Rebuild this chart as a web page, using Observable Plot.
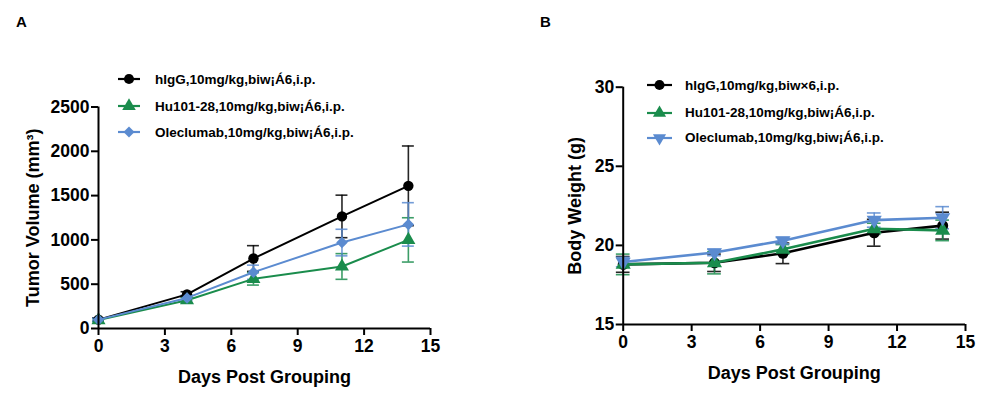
<!DOCTYPE html>
<html>
<head>
<meta charset="utf-8">
<script src="https://cdn.jsdelivr.net/npm/d3@7"></script>
<script src="https://cdn.jsdelivr.net/npm/@observablehq/plot@0.6"></script>
<style>
  html, body { margin: 0; padding: 0; background: #fff; }
  #wrap { position: relative; width: 984px; height: 398px; overflow: hidden; font-family: "Liberation Sans", Arial, sans-serif; }
  .panel { position: absolute; top: 0; }
  .plabel { position: absolute; font-weight: bold; font-size: 15px; }
  .leg { position: absolute; display: flex; align-items: center; font-weight: bold; font-size: 13.5px; white-space: nowrap; }
  .leg svg { display: block; }
</style>
</head>
<body>
<div id="wrap"></div>
<script>
// ---------- data ----------
const days = [0, 4, 7, 11, 14];
const xTicks = [0, 3, 6, 9, 12, 15];

const seriesNames = ["hIgG,10mg/kg,biw¡Á6,i.p.", "Hu101-28,10mg/kg,biw¡Á6,i.p.", "Oleclumab,10mg/kg,biw¡Á6,i.p."];
const seriesNamesB = ["hIgG,10mg/kg,biw×6,i.p.", "Hu101-28,10mg/kg,biw¡Á6,i.p.", "Oleclumab,10mg/kg,biw¡Á6,i.p."];
const colors = ["#000000", "#1a8c4c", "#5b8bd0"];

// Panel A: tumor volume (mm3)
const volTicks = [0, 500, 1000, 1500, 2000, 2500];
const hIgGVol = [100, 385, 790, 1265, 1610];
const hIgGVolErr = [20, 30, 145, 240, 450];
const huVol = [95, 318, 560, 700, 1000];
const huVolErr = [15, 30, 70, 145, 250];
const oleVol = [100, 345, 635, 970, 1175];
const oleVolErr = [15, 30, 80, 150, 245];

// Panel B: body weight (g)
const bwTicks = [15, 20, 25, 30];
const hIgGBw = [18.8, 18.9, 19.5, 20.8, 21.25];
const hIgGBwErr = [0.5, 0.55, 0.65, 0.85, 0.85];
const huBw = [18.8, 18.9, 19.75, 21.05, 20.95];
const huBwErr = [0.65, 0.7, 0.3, 0.35, 0.65];
const oleBw = [18.95, 19.55, 20.3, 21.6, 21.75];
const oleBwErr = [0.3, 0.2, 0.2, 0.45, 0.7];

// ---------- build tables ----------
function table(names, vals, errs) {
  const out = [];
  names.forEach((n, i) => days.forEach((d, j) => out.push({series: n, idx: i, day: d, v: vals[i][j], e: errs[i][j]})));
  return out;
}
const dataA = table(seriesNames, [hIgGVol, huVol, oleVol], [hIgGVolErr, huVolErr, oleVolErr]);
const dataB = table(seriesNamesB, [hIgGBw, huBw, oleBw], [hIgGBwErr, huBwErr, oleBwErr]);

const FONT = '"Liberation Sans", Arial, sans-serif';

function panel(cfg) {
  const {data, yDomain, yTicks, yLabel, width, margins, symbols, rotates, capW, lineW, r, ylabDx} = cfg;
  const marks = [];
  // error bars
  for (let i = 0; i < 3; i++) {
    const d = data.filter(o => o.idx === i);
    marks.push(Plot.ruleX(d, {x: "day", y1: o => o.v - o.e, y2: o => o.v + o.e, stroke: colors[i], strokeWidth: 1.6, strokeOpacity: 0.85}));
    marks.push(Plot.ruleY(d, {y: o => o.v + o.e, x1: o => o.day - capW, x2: o => o.day + capW, stroke: colors[i], strokeWidth: 1.6, strokeOpacity: 0.85}));
    marks.push(Plot.ruleY(d, {y: o => o.v - o.e, x1: o => o.day - capW, x2: o => o.day + capW, stroke: colors[i], strokeWidth: 1.6, strokeOpacity: 0.85}));
  }
  for (let i = 0; i < 3; i++) {
    const d = data.filter(o => o.idx === i);
    marks.push(Plot.line(d, {x: "day", y: "v", stroke: colors[i], strokeWidth: lineW}));
    marks.push(Plot.dot(d, {x: "day", y: "v", fill: colors[i], stroke: "none", symbol: symbols[i], r: r[i], rotate: rotates[i]}));
  }
  // axes
  marks.push(Plot.ruleY([yDomain[0]], {stroke: "#000", strokeWidth: 2}));
  marks.push(Plot.ruleX([0], {stroke: "#000", strokeWidth: 2}));
  marks.push(Plot.axisX(xTicks, {tickSize: 7, tickPadding: 4, strokeWidth: 2, fontSize: 17.5, fontWeight: "bold", fill: "#000", label: null, tickFormat: d3.format("d")}));
  marks.push(Plot.axisY(yTicks, {tickSize: 7, tickPadding: 2, strokeWidth: 2, fontSize: 17.5, fontWeight: "bold", fill: "#000", label: null, tickFormat: d3.format("d")}));
  marks.push(Plot.text([yLabel], {frameAnchor: "left", dx: ylabDx, rotate: -90, text: d => d, fontSize: 18, fontWeight: "bold", fill: "#000", textAnchor: "middle", lineAnchor: "middle"}));
  marks.push(Plot.text(["Days Post Grouping"], {frameAnchor: "bottom", dy: 49, text: d => d, fontSize: 18, fontWeight: "bold", fill: "#000", textAnchor: "middle", lineAnchor: "middle"}));
  return Plot.plot({
    width, height: 398,
    marginLeft: margins[0], marginRight: margins[1], marginTop: margins[2], marginBottom: margins[3],
    x: {domain: [0, 15]},
    y: {domain: yDomain},
    style: {fontFamily: FONT, background: "transparent", overflow: "visible"},
    marks
  });
}

const wrap = document.getElementById("wrap");

const svgA = panel({
  data: dataA, yDomain: [0, 2500], yTicks: volTicks, yLabel: "Tumor Volume (mm³)",
  width: 490, margins: [98, 60, 106.5, 70],
  symbols: ["circle", "triangle", "square"], rotates: [0, 0, 45], r: [5.2, 5.2, 4.6],
  capW: 0.27, lineW: 2, ylabDx: -65
});
const dA = document.createElement("div"); dA.className = "panel"; dA.style.left = "0px"; dA.appendChild(svgA); wrap.appendChild(dA);

const svgB = panel({
  data: dataB, yDomain: [15, 30], yTicks: bwTicks, yLabel: "Body Weight (g)",
  width: 494, margins: [132.7, 19, 86.7, 74],
  symbols: ["circle", "triangle", "triangle"], rotates: [0, 0, 180], r: [5.5, 5.6, 5.6],
  capW: 0.3, lineW: 2.6, ylabDx: -48
});
const dB = document.createElement("div"); dB.className = "panel"; dB.style.left = "490px"; dB.appendChild(svgB); wrap.appendChild(dB);

// panel letters
[["A", 16, 13], ["B", 540, 13]].forEach(([t, x, y]) => {
  const el = document.createElement("div"); el.className = "plabel"; el.textContent = t;
  el.style.left = x + "px"; el.style.top = y + "px"; wrap.appendChild(el);
});

// legends
function legend(names, x, ys, syms, rots, lineLen, textGap, sizes) {
  names.forEach((n, i) => {
    const el = document.createElement("div"); el.className = "leg";
    el.style.left = x + "px"; el.style.top = (ys[i] - 9) + "px"; el.style.height = "18px";
    const svg = d3.create("svg").attr("width", lineLen).attr("height", 18);
    svg.append("line").attr("x1", 0).attr("x2", lineLen).attr("y1", 9).attr("y2", 9).attr("stroke", colors[i]).attr("stroke-width", 2.2);
    svg.append("path").attr("d", d3.symbol(syms[i], sizes[i])()).attr("fill", colors[i])
      .attr("transform", `translate(${lineLen / 2},9) rotate(${rots[i]})`);
    el.appendChild(svg.node());
    const sp = document.createElement("span"); sp.textContent = n; sp.style.marginLeft = textGap + "px";
    el.appendChild(sp);
    wrap.appendChild(el);
  });
}
legend(seriesNames, 118, [79, 106, 132], [d3.symbolCircle, d3.symbolTriangle, d3.symbolSquare], [0, 0, 45], 22, 15, [80, 80, 60]);
legend(seriesNamesB, 647, [85, 112.5, 137.5], [d3.symbolCircle, d3.symbolTriangle, d3.symbolTriangle], [0, 0, 180], 25, 13, [80, 75, 75]);
</script>
</body>
</html>
